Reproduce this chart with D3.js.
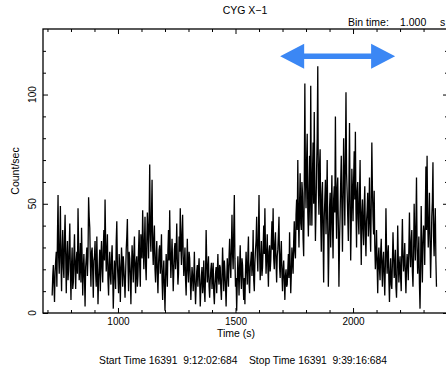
<!DOCTYPE html>
<html>
<head>
<meta charset="utf-8">
<script src="https://cdn.jsdelivr.net/npm/d3@7"></script>
<style>
  body { margin: 0; background: #fff; }
  text { font-family: "Liberation Sans", Arial, Helvetica, sans-serif; fill: #000; }
</style>
</head>
<body>
<div id="chart"></div>
<script>
// Light curve data (read every 2.5 s, values in count/sec)
var startTime = 720;
var binStep = 2.5;
var rates = [
  8, 17, 22, 13, 5, 19, 24, 28, 12, 35, 54, 26, 18, 31, 49, 23, 10, 29, 38, 21, 16, 34, 45, 27, 9, 25, 33, 15, 20, 30, 41, 19, 6, 22, 30, 11, 14, 27, 36, 20,
  11, 24, 28, 18, 48, 31, 15, 22, 32, 14, 39, 25, 8, 20, 27, 16, 3, 21, 25, 30, 17, 26, 53, 44, 39, 23, 12, 28, 30, 19, 7, 24, 26, 33, 18, 12, 35, 20, 4, 15,
  22, 29, 10, 26, 33, 20, 14, 30, 38, 24, 52, 33, 19, 27, 36, 15, 8, 22, 28, 17, 13, 25, 31, 18, 2, 14, 24, 19, 11, 33, 42, 22, 16, 9, 27, 21, 5, 18, 30, 24,
  12, 26, 21, 15, 7, 18, 29, 35, 43, 22, 10, 28, 25, 17, 4, 20, 31, 24, 14, 27, 35, 19, 9, 23, 26, 12, 17, 29, 38, 21, 12, 36, 30, 25, 47, 33, 20, 31, 44, 22,
  15, 32, 46, 38, 25, 42, 68, 36, 28, 45, 61, 30, 22, 34, 40, 20, 14, 26, 33, 18, 9, 22, 29, 31, 18, 25, 36, 15, 6, 19, 24, 12, 1, 16, 27, 21, 12, 29, 38, 24,
  47, 28, 16, 25, 34, 22, 10, 19, 29, 32, 20, 27, 41, 24, 13, 18, 35, 28, 48, 31, 22, 37, 45, 26, 17, 23, 30, 15, 8, 21, 34, 20, 14, 28, 25, 16, 6, 14, 21, 17,
  10, 16, 28, 13, 4, 12, 19, 22, 12, 20, 25, 15, 3, 11, 17, 21, 9, 14, 24, 10, 5, 18, 38, 24, 14, 20, 26, 12, 7, 15, 20, 23, 11, 17, 23, 9, 4, 13, 18, 21,
  9, 18, 27, 16, 13, 22, 21, 11, 6, 17, 30, 20, 10, 24, 19, 12, 3, 15, 25, 18, 12, 26, 34, 22, 16, 30, 45, 27, 20, 38, 54, 25, 12, 16, 1, 14, 26, 19, 8, 21,
  31, 17, 11, 25, 22, 13, 6, 16, 4, 19, 28, 20, 13, 26, 35, 14, 9, 21, 24, 28, 17, 22, 38, 15, 10, 23, 29, 33, 44, 26, 19, 37, 54, 28, 15, 24, 33, 17, 21, 30,
  40, 27, 48, 30, 18, 26, 36, 22, 12, 28, 31, 19, 24, 33, 42, 29, 48, 25, 20, 32, 37, 23, 14, 26, 29, 36, 44, 21, 16, 27, 33, 18, 10, 20, 24, 15, 6, 17, 20, 12,
  13, 20, 27, 16, 37, 22, 9, 18, 30, 24, 18, 33, 42, 28, 25, 45, 52, 38, 70, 44, 30, 50, 64, 41, 38, 60, 55, 34, 26, 58, 105, 62, 48, 70, 82, 46, 35, 56, 72, 40,
  104, 55, 40, 64, 78, 50, 92, 58, 33, 47, 66, 80, 113, 57, 45, 68, 75, 42, 28, 54, 60, 35, 14, 44, 52, 61, 36, 49, 70, 38, 12, 30, 48, 55, 30, 46, 63, 40, 25, 52,
  58, 46, 90, 52, 34, 57, 62, 40, 12, 33, 45, 60, 72, 48, 28, 53, 80, 62, 40, 70, 101, 64, 55, 44, 33, 58, 87, 50, 24, 41, 66, 55, 42, 61, 74, 52, 83, 47, 30, 56,
  60, 43, 36, 54, 70, 40, 22, 46, 52, 38, 31, 49, 58, 35, 26, 42, 47, 55, 35, 44, 62, 39, 28, 50, 78, 57, 44, 36, 56, 31, 20, 27, 38, 22, 9, 25, 30, 20, 15, 28,
  34, 21, 12, 24, 28, 17, 8, 22, 48, 30, 18, 26, 31, 15, 5, 19, 25, 13, 11, 23, 37, 27, 16, 20, 29, 12, 7, 18, 40, 25, 14, 21, 26, 16, 10, 29, 43, 26, 19, 24,
  32, 18, 9, 20, 27, 23, 15, 30, 46, 28, 21, 33, 38, 19, 12, 26, 50, 35, 24, 41, 62, 30, 18, 25, 35, 13, 2, 21, 49, 28, 14, 32, 40, 36, 22, 45, 67, 38, 72, 43,
  30, 41, 55, 33, 16, 29, 44, 51, 69, 35, 26, 40, 48, 24, 12
];

// axis ticks
var xMajorTicks = [1000, 1500, 2000];
var yMajorTicks = [0, 50, 100];

// annotation arrow (in data units)
var arrowStart = 1690;
var arrowEnd = 2179;
var arrowLevel = 117.5;

var svgWidth = 446;
var svgHeight = 369;

var margin = { top: 29, right: -2, bottom: 56, left: 43 };
var width = svgWidth - margin.left - margin.right;
var height = svgHeight - margin.top - margin.bottom;

var svg = d3.select("#chart")
  .append("svg")
  .attr("width", svgWidth)
  .attr("height", svgHeight);

var chartGroup = svg.append("g")
  .attr("transform", `translate(${margin.left}, ${margin.top})`);

var lightCurve = rates.map(function (r, i) {
  return { time: startTime + i * binStep, rate: r };
});

var xLinearScale = d3.scaleLinear()
  .domain([681, 2404])
  .range([0, width]);

var yLinearScale = d3.scaleLinear()
  .domain([0, 130])
  .range([height, 0]);

// minor ticks every 100 s / 10 counts
var xMinor = d3.range(700, 2401, 100).filter(d => xMajorTicks.indexOf(d) < 0);
var yMinor = d3.range(10, 130, 10).filter(d => yMajorTicks.indexOf(d) < 0);

// curve
var line = d3.line()
  .x(d => xLinearScale(d.time))
  .y(d => yLinearScale(d.rate));

chartGroup.append("path")
  .datum(lightCurve)
  .attr("fill", "none")
  .attr("stroke", "#000")
  .attr("stroke-width", 1.3)
  .attr("stroke-linejoin", "bevel")
  .attr("d", line);

// axes, ticks pointing inward on all four sides
function styleAxis(g) {
  g.select(".domain").remove();
  g.selectAll("line").attr("stroke", "#000").attr("stroke-width", 1);
}

chartGroup.append("g")
  .attr("transform", `translate(0, ${height})`)
  .call(d3.axisBottom(xLinearScale).tickValues(xMajorTicks).tickSize(-5).tickFormat(d3.format("d")))
  .call(styleAxis)
  .call(g => g.selectAll("text").attr("font-size", "10px").attr("y", 12).attr("dy", 0));

chartGroup.append("g")
  .attr("transform", `translate(0, ${height})`)
  .call(d3.axisBottom(xLinearScale).tickValues(xMinor).tickSize(-3).tickFormat(""))
  .call(styleAxis);

chartGroup.append("g")
  .call(d3.axisTop(xLinearScale).tickValues(xMajorTicks).tickSize(-5).tickFormat(""))
  .call(styleAxis);

chartGroup.append("g")
  .call(d3.axisTop(xLinearScale).tickValues(xMinor).tickSize(-3).tickFormat(""))
  .call(styleAxis);

chartGroup.append("g")
  .call(d3.axisLeft(yLinearScale).tickValues(yMajorTicks).tickSize(-5).tickFormat(""))
  .call(styleAxis);

chartGroup.append("g")
  .call(d3.axisLeft(yLinearScale).tickValues(yMinor).tickSize(-3).tickFormat(""))
  .call(styleAxis);

chartGroup.append("g")
  .attr("transform", `translate(${width}, 0)`)
  .call(d3.axisRight(yLinearScale).tickValues(yMajorTicks).tickSize(-5).tickFormat(""))
  .call(styleAxis);

chartGroup.append("g")
  .attr("transform", `translate(${width}, 0)`)
  .call(d3.axisRight(yLinearScale).tickValues(yMinor).tickSize(-3).tickFormat(""))
  .call(styleAxis);

// rotated y tick labels
chartGroup.selectAll(".ylab")
  .data(yMajorTicks)
  .enter()
  .append("text")
  .attr("class", "ylab")
  .attr("transform", d => `translate(-7, ${yLinearScale(d)}) rotate(-90)`)
  .attr("text-anchor", "middle")
  .attr("font-size", "10px")
  .text(d => d);

// frame
chartGroup.append("rect")
  .attr("x", 0)
  .attr("y", 0)
  .attr("width", width)
  .attr("height", height)
  .attr("fill", "none")
  .attr("stroke", "#000")
  .attr("stroke-width", 1.3);

// blue double arrow
var ax0 = xLinearScale(arrowStart);
var ax1 = xLinearScale(arrowEnd);
var ay = yLinearScale(arrowLevel);
var headLen = 24;
var headHalf = 12.5;
var shaftHalf = 2.8;
chartGroup.append("path")
  .attr("fill", "#3b87f4")
  .attr("d", [
    "M", ax0, ay,
    "L", ax0 + headLen, ay - headHalf,
    "L", ax0 + headLen, ay - shaftHalf,
    "L", ax1 - headLen, ay - shaftHalf,
    "L", ax1 - headLen, ay - headHalf,
    "L", ax1, ay,
    "L", ax1 - headLen, ay + headHalf,
    "L", ax1 - headLen, ay + shaftHalf,
    "L", ax0 + headLen, ay + shaftHalf,
    "L", ax0 + headLen, ay + headHalf,
    "Z"
  ].join(" "));

// titles and labels
svg.append("text")
  .attr("x", 245)
  .attr("y", 14)
  .attr("text-anchor", "middle")
  .attr("font-size", "10.5px")
  .text("CYG X\u22121");

svg.append("text").attr("x", 348).attr("y", 26).attr("font-size", "10.5px").text("Bin time:");
svg.append("text").attr("x", 400).attr("y", 26).attr("font-size", "10.5px").text("1.000");
svg.append("text").attr("x", 440).attr("y", 26).attr("font-size", "10.5px").text("s");

svg.append("text")
  .attr("transform", `translate(19, ${margin.top + height / 2}) rotate(-90)`)
  .attr("text-anchor", "middle")
  .attr("font-size", "10.5px")
  .text("Count/sec");

svg.append("text")
  .attr("x", 236)
  .attr("y", 337)
  .attr("text-anchor", "middle")
  .attr("font-size", "10.5px")
  .text("Time (s)");

svg.append("text")
  .attr("x", 243)
  .attr("y", 364)
  .attr("text-anchor", "middle")
  .attr("font-size", "10.3px")
  .attr("xml:space", "preserve")
  .style("white-space", "pre")
  .text("Start Time 16391  9:12:02:684    Stop Time 16391  9:39:16:684");
</script>
</body>
</html>
